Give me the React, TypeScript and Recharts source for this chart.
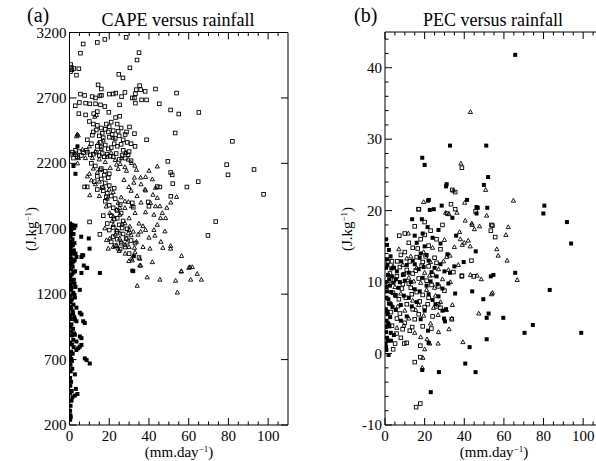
import { ScatterChart, Scatter, XAxis, YAxis } from "recharts";

type Pt = [number, number];

// ---- panel (a): CAPE (J/kg) vs rainfall (mm/day)
const capeOpenSquares: Pt[] = [
  [6.9, 3112], [14, 3124], [17.8, 3147], [28.5, 3163], [5.5, 3042], [35, 3046], [34, 2990], [30.4, 2930],
  [0.6, 2955], [0.8, 2935], [1.2, 2915], [0.5, 2900], [4.7, 2923], [3.5, 2874], [2.2, 2925],
  [24.8, 2880], [26.9, 2853], [14.4, 2800], [16, 2768],
  [35.3, 2794], [35.8, 2763], [33.6, 2763], [33.2, 2732], [38.1, 2750], [43.3, 2768], [53.9, 2737],
  [5.5, 2729], [7.6, 2719], [11.4, 2710], [13.1, 2700], [15.3, 2716], [16.1, 2720], [20, 2729], [22, 2730],
  [23.3, 2737], [26.2, 2710], [27.9, 2742], [31.6, 2700], [32.7, 2700], [36.3, 2685], [38.8, 2685],
  [2.9, 2640], [5, 2665], [8.1, 2660], [10.2, 2655], [13.1, 2655], [15.6, 2647], [17.8, 2634], [25.2, 2647], [33.2, 2660],
  [45.2, 2655], [50.9, 2608], [55, 2577], [65.1, 2589],
  [4.7, 2580], [8.1, 2570], [12.2, 2580], [14, 2595], [19.8, 2590], [23.2, 2550], [25.3, 2560],
  [53.2, 2432], [82, 2368], [38.8, 2380], [32.7, 2427], [30.2, 2478], [28.7, 2440],
  [49.5, 2215], [79.1, 2190], [92.9, 2153], [79.8, 2112], [50.9, 2130], [51.7, 2112], [52, 2045], [64.8, 2060],
  [59.1, 2019], [97.7, 1963], [51, 1948], [73.6, 1755], [69.7, 1649],
  [45.5, 2019], [44.2, 2022], [39.6, 1905], [40, 1872], [32.1, 1864], [31.6, 1898], [10.1, 1752], [15.3, 1657],
  [7.6, 2020], [8.9, 2020],
  [10, 2520], [12, 2500], [14, 2490], [16, 2470], [18, 2460], [20, 2480], [22, 2450], [24, 2500], [26, 2470],
  [28, 2420], [12, 2440], [15, 2410], [17, 2395], [20, 2400], [23, 2390], [25, 2410], [27, 2380], [29, 2360],
  [31, 2350], [9, 2380], [11, 2350], [14, 2330], [18, 2340], [21, 2320], [24, 2330], [27, 2300], [30, 2290],
  [33, 2330], [3, 2300], [5, 2290], [7, 2280], [9, 2285], [12, 2270], [15, 2260], [19, 2270], [22, 2250],
  [25, 2230], [28, 2240], [31, 2220], [4, 2250], [6, 2260], [1, 2270], [2, 2240],
  [1.5, 2285], [3.2, 2265], [8.5, 2300], [10.5, 2265], [13.5, 2285], [16.5, 2275], [17.5, 2250], [20.5, 2255],
  [23.5, 2275], [26.5, 2260], [29.5, 2265], [11.5, 2415], [13.5, 2455], [16.5, 2430], [19.5, 2440], [21.5, 2420],
  [24.5, 2445], [18.5, 2500], [21, 2515], [15.5, 2360], [22.5, 2350], [26, 2345], [19.5, 2310], [16, 2325],
  [11, 2200], [13, 2180], [16, 2160], [18, 2140], [20, 2120], [14, 2100], [16, 2080], [18, 2050], [20, 2030],
  [14, 2000], [17, 1990], [19, 1970], [21, 1950], [23, 1930], [18, 1910], [20, 1880], [22, 1860], [24, 1840],
  [26, 1820], [21, 1800], [24, 1780], [27, 1760], [25, 1730], [22, 1710], [20, 1690], [24, 1680], [27, 1660],
  [29, 1700], [22, 1640], [24, 1620], [21, 1600], [26, 1590], [23, 1570], [28, 1560], [33, 1590], [35, 1480],
  [30, 1510], [19, 1740], [17, 1800], [15.5, 2150], [17.5, 2110], [19.5, 2090], [12.5, 2060], [16.5, 2015],
  [22.5, 2010], [18.5, 1945], [25.5, 1885], [22.5, 1775], [26.5, 1705], [28.5, 1625], [25.5, 1545], [31, 1610],
];

const capeTriangles: Pt[] = [
  [4.4, 2414], [3.9, 2422], [3.5, 2407], [12.7, 2556], [13.6, 2569], [28.2, 2280], [44.2, 2176], [40, 2143],
  [38.3, 2096], [41.7, 2078], [32.7, 2091], [27.4, 2073], [29.9, 2019], [32.4, 2052], [35.8, 2091], [38.3, 1993],
  [43.3, 2013], [53.9, 1943], [44.2, 1936], [40.8, 1897], [43.3, 1872], [45.5, 1872], [38.3, 1826], [42.5, 1807],
  [46.7, 1820], [48.4, 1781], [45.8, 1781], [44.2, 1730], [42.5, 1691], [38.3, 1691], [35.8, 1678], [40, 1632],
  [43, 1647], [32.7, 1554], [40.5, 1548], [47, 1554], [50.9, 1569], [50.9, 1548], [31.2, 1471], [35.4, 1419],
  [41.7, 1445], [56.4, 1492], [60.6, 1407], [61.8, 1407], [64.3, 1355], [56.2, 1373], [29.9, 1453], [31.6, 1458],
  [35.4, 1471], [35.8, 1419], [56.3, 1376], [60.1, 1401], [53.4, 1303], [45.5, 1311], [61, 1311], [66.4, 1311],
  [39.1, 1329], [34.1, 1264], [54.3, 1213],
  [28.4, 2282], [26.2, 2240], [29.6, 2228], [32.9, 2182], [31.2, 2202], [33.7, 2150], [27.9, 2171], [24.5, 2157],
  [23.7, 2190], [28.7, 2143], [4, 2200], [4.5, 2240], [10.2, 1956], [24.5, 1898], [27.9, 1910], [29.6, 1905],
  [25.3, 1859], [23.7, 1846], [27.9, 1859], [31.2, 1872],
  [20.3, 1820], [22, 1794], [25.3, 1807], [27.9, 1742], [22, 1729], [17.8, 1703], [23.7, 1690], [25.3, 1665],
  [20.3, 1626], [18.6, 1613], [23.7, 1575], [26.2, 1601], [28.7, 1626], [27.9, 1575], [24.5, 1548], [29.6, 1665],
  [30.4, 1717], [32.1, 1678], [33.7, 1601], [25.3, 1626], [19.5, 1548], [22, 1561],
  [10, 2330], [13, 2290], [16, 2310], [19, 2250], [21, 2280], [8, 2240], [15, 2230], [18, 2210], [12, 2160],
  [10, 2120], [9, 2100], [15, 2060], [13, 2040], [17, 2020], [20, 2000], [22, 1980], [15, 1950], [19, 1930],
  [26, 1940], [31, 1990], [34, 1950], [36, 1900], [33, 1820], [30, 1780], [35, 1740], [37, 1720], [31, 1650],
  [30, 1560], [28, 1510], [25, 1530], [33, 1520], [37, 1560], [46, 1600], [48, 1680], [49, 1860], [51, 1900],
  [38, 2000], [36, 2040], [42, 1960], [2.5, 2280], [6.5, 2305], [14.5, 2355], [17, 2375], [22, 2395],
  [11.5, 2240], [23, 2225], [25.5, 2195], [20.5, 2165], [14, 2130], [11, 2070], [18.5, 1870], [21.5, 1760],
  [26.5, 1735], [23, 1655], [30, 1690], [34.5, 1655], [29, 1595],
];

const capeFilled: Pt[] = [
  [0.3, 1740], [0.5, 1720], [1.2, 1700], [0.8, 1680], [2, 1660], [0.4, 1640], [1.5, 1620], [0.6, 1600],
  [2.5, 1590], [1, 1570], [0.3, 1550], [2.2, 1535], [1.8, 1510], [0.5, 1500], [3.5, 1484], [6, 1484],
  [6.9, 1497], [1, 1470], [2, 1450], [0.4, 1430], [1.6, 1410], [8.6, 1401], [0.7, 1390], [2.8, 1375],
  [6, 1362], [15.3, 1362], [1.1, 1350], [0.3, 1330], [2.2, 1310], [1.4, 1290], [0.5, 1270], [3, 1255],
  [5.2, 1233], [0.8, 1230], [1.9, 1210], [0.4, 1190], [2.7, 1174], [1.2, 1160], [0.6, 1140], [2, 1120],
  [3.5, 1097], [0.9, 1090], [1.5, 1070], [5.2, 1058], [6, 1045], [0.3, 1040], [2.4, 1025], [2.7, 1006],
  [3.5, 993], [6.9, 993], [7.7, 980], [1, 970], [0.5, 950], [1.8, 935], [0.7, 915], [2.3, 900], [2.7, 890],
  [5.2, 877], [6, 864], [1.9, 851], [3.5, 838], [0.4, 830], [1.2, 815], [6, 812], [5.2, 799], [4.4, 787],
  [3.5, 773], [0.8, 760], [1.6, 745], [0.3, 730], [7.7, 709], [8.6, 696], [10.2, 670], [1.2, 690], [0.5, 660],
  [1.4, 630], [0.6, 610], [2.7, 587], [0.3, 560], [0.8, 530], [0.4, 500], [3.2, 476], [1.1, 460], [4, 437],
  [2.7, 425], [1.5, 412], [1, 386], [0.5, 347], [0.3, 309], [0.4, 275], [0.6, 260], [0.3, 240],
  [3, 1724], [5.9, 1639], [9.7, 1626], [10.1, 1548], [3, 1510], [6.4, 1497], [7.2, 1419], [8.9, 1401],
  [32.1, 1376], [31.6, 1380], [32.4, 1490], [4, 2330], [2, 2180], [3, 2120],
  [1.3, 1730], [2.2, 1705], [0.6, 1655], [1.7, 1575], [0.9, 1525], [2.6, 1460], [1.2, 1440], [0.5, 1405],
  [1.9, 1365], [0.6, 1310], [2.5, 1280], [1.1, 1250], [2.4, 1195], [0.4, 1105], [1.8, 1055], [0.7, 1010],
  [1.3, 885], [2.1, 795], [0.9, 705], [0.4, 445],
];

// ---- panel (b): PEC (J/kg) vs rainfall (mm/day)
const pecOpenSquares: Pt[] = [
  [38.8, 26], [35.4, 22.6], [17.1, 20.2], [33.3, 20.9], [35.4, 20.2], [31.4, 19.6], [45.7, 19.9], [53.4, 17.2],
  [54.2, 17.9], [55.6, 16.3], [43.6, 13], [38.8, 10.8], [34.5, 11.4], [44.8, 10.8], [34, 22.9], [16.9, 20.2],
  [20, 18.4], [53.7, 18], [7.2, 16.5], [1.5, 12.9], [3.5, 12.9], [6.2, 12.9], [15.7, -7.5], [17.8, -7],
  [15, -1.2], [17.8, -0.5], [17.8, 1.1], [9.7, 1.4], [10.9, 1.5], [4.1, 0.6], [5.1, 1.4], [5.8, 2.8],
  [23.4, 3.5], [33.7, 4.8], [28, 6.4], [26, 6.6], [26.8, 6.9], [13.7, 3.7], [8.9, 3.4], [38.8, 10.9],
  [12, 15.5], [14, 14.8], [10, 14.2], [16, 13.5], [8, 13.8], [19, 12.8], [22, 12.2], [25, 13.4], [11, 11.7],
  [14, 11.2], [17, 10.5], [21, 10.2], [24, 11], [6, 10.8], [9, 9.7], [13, 9.2], [16, 8.6], [19, 8.2], [22, 7.8],
  [27, 9.4], [30, 8.8], [4, 8.5], [7, 7.6], [11, 6.9], [14, 6.2], [17, 5.5], [20, 6.5], [24, 5.2], [3, 5.8],
  [6, 4.9], [10, 4.3], [15, 4.8], [19, 3.8], [8, 2.2], [12, 9.8], [26, 16], [28, 14.6], [20, 16.6], [23, 17.2],
  [29, 18], [15, 17.8], [10, 16.8],
  [2.5, 11.2], [4.5, 10.2], [7.5, 12.1], [9.5, 11.1], [12.5, 12.9], [15.5, 11.6], [18.5, 12.3], [20.5, 13.6],
  [23.5, 9.6], [26, 12.7], [5.5, 8.1], [8.5, 9.1], [10.5, 7.8], [13.5, 8.3], [17.5, 7.3], [21.5, 6.9],
  [3.5, 3.9], [7.5, 5.6], [12.5, 3.2], [16.5, 14.7], [18, 16], [22, 15.1],
];

const pecTriangles: Pt[] = [
  [43.1, 33.8], [38.3, 26.6], [50.8, 22.9], [34.5, 22.8], [64.8, 21.4], [40.2, 21.1], [19.5, 21.2], [36.3, 19.7],
  [51.3, 19.3], [40.5, 18.6], [44, 18], [45.1, 17.4], [47.7, 17.8], [62.2, 17.7], [61, 16.6], [56.4, 14.6],
  [57.1, 13.7], [61.6, 13], [66.7, 10.3], [37.6, 17], [38, 16], [40, 15.5], [42, 15.8], [39, 15.2], [43, 15],
  [31.1, 13.5], [32.8, 13.7], [43.1, 11], [46.5, 10.9], [48.6, 10.4], [54.2, 8.5], [53.7, 8.3], [47.3, 5.6],
  [39.3, 1.6], [18.8, -2], [19.1, -0.6], [20, 0.6], [22.6, 1.4], [26.8, 1.4], [21.2, 2], [18, 2.3], [32.3, 3.4],
  [34, 6.8], [33.7, 4.9], [26.8, 5.4], [30.6, 19.7], [32.3, 19.5], [43.8, 18.2], [11.8, 16.8],
  [13, 13.6], [9, 12.4], [16, 12], [20, 11.3], [23, 12.8], [27, 11.8], [12, 10.6], [18, 9.9], [25, 9.2],
  [29, 10.4], [5, 9.3], [8, 8.4], [14, 7.4], [21, 8.9], [28, 7.2], [31, 6.1], [3, 7], [10, 6], [17, 6.8],
  [23, 4.2], [27, 3], [6, 3.6], [15, 2.9], [24, 14.8], [30, 15.9], [35, 14.9], [37, 12.4], [33, 10], [2, 4.2],
  [12, 4.9], [1.5, 9.8], [4, 12.2], [7, 14.6], [11, 13.3], [14.5, 10.1], [19.5, 14.2], [22.5, 10.9],
  [25.5, 8.1], [29.5, 12.9], [32, 11.7], [6.5, 6.6], [9.5, 3.9], [15.5, 6.1], [19.5, 5.3], [24.5, 6.4],
];

const pecFilled: Pt[] = [
  [65.7, 41.8], [32.8, 29.1], [51.1, 29.1], [18.8, 27.4], [20, 26.4], [52, 24.7], [49.9, 23.6], [31.1, 23.7],
  [30.8, 23.4], [41.4, 21.5], [21.7, 21.4], [22.6, 20.1], [28.6, 20.7], [46.2, 20.5], [46.8, 20.4], [51.6, 20.4],
  [80.4, 20.7], [79.9, 19.6], [91.8, 18.4], [93.9, 15.4], [13.7, 18.8], [46.2, 19.6], [35.9, 16.5], [65.7, 11.3],
  [83.1, 8.9], [45.8, 14.3], [39.7, 12.8], [53.4, 10.8], [54.7, 11], [32.8, 11.3], [44, 8.7], [49.6, 7.6],
  [52.3, 5.6], [51.3, 5], [59.7, 5], [74.6, 4], [70.4, 2.9], [99, 2.9], [51.3, 2], [42.7, 0.9], [40.5, -1.4],
  [45.7, -2.6], [27.2, -2.6], [23.1, -5.4], [18.8, -2.3], [22, 1.5], [21.7, 3.2], [29.8, 4.9], [30.3, 4.5],
  [30.8, 6.2], [35.4, 8.4], [22.1, 21.5], [24.6, 20.2], [34, 19], [18.6, 18.8],
  [2, 14.5], [1, 13.2], [0.5, 12], [1.5, 11], [0.3, 10], [2.5, 9.5], [1, 8.7], [0.6, 7.8], [2, 7], [0.4, 6.2],
  [1.3, 5.5], [0.8, 4.6], [2.2, 3.8], [0.5, 3], [1, 2.2], [0.3, 1.4], [0.7, 0.5], [3.5, 10.8], [4.5, 12],
  [5, 8.2], [3.8, 6.5], [6, 11.5], [7.5, 10], [9, 11], [11, 12.4], [14, 13], [16, 15.5], [18, 14], [20, 15],
  [22, 13], [25, 12], [13, 10], [15, 9], [17, 11.8], [19, 10.6], [21, 9.5], [23, 10.1], [26, 10.8], [28, 12.5],
  [30, 11.5], [32, 9.8], [8, 6.8], [12, 7.8], [16, 7.2], [20, 6], [24, 7.5], [27, 8], [29, 6], [11, 5.2],
  [18, 4.8], [3, 1.8], [1.8, -0.2], [0.5, 16], [1, 15.2], [24, 16.2], [27, 17.3], [19, 16.8], [15, 16.5],
  [2.8, 13.6], [1.2, 12.4], [3.2, 11.9], [2.1, 10.4], [0.8, 9.3], [3.1, 8.6], [1.7, 7.6], [2.8, 6.9],
  [0.9, 5.9], [2.6, 5.1], [1.6, 4.2], [0.4, 3.7], [2.9, 2.9], [1.4, 1.8], [0.5, 0.9], [4.2, 9.9], [5.5, 10.4],
  [6.8, 9.2], [8.2, 12.9], [10, 10.2], [12, 11.3], [15, 12.5], [17.5, 13.4], [19.5, 12.1], [21, 13.8],
  [23.5, 11.4], [26.5, 9.7], [29, 9.1], [9.5, 8.1], [13.5, 6.6], [17.5, 8.7], [22, 8.3], [25.5, 6.9],
  [5.5, 6.1], [8, 4.6], [4.5, 2.6], [28, 15.4], [31.5, 13.9], [35, 12.2], [21.5, 17.7],
];

const rainTicks = Array.from({ length: 22 }, (_, i) => i * 5); // 0..105
const rainMajor = [0, 20, 40, 60, 80, 100];
const capeTicks = [200, 700, 1200, 1700, 2200, 2700, 3200];
const pecTicks = Array.from({ length: 28 }, (_, i) => -10 + i * 2); // -10..44
const pecMajor = [-10, 0, 10, 20, 30, 40];

const FONT = '"Liberation Serif", "Times New Roman", "DejaVu Serif", serif';
const MAJ = 7;
const MIN = 3.5;

const toXY = (pts: Pt[]) => pts.map(([x, y]) => ({ x, y }));

function OpenSquare(props: any) {
  const { cx, cy } = props;
  if (cx == null || cy == null) return <g />;
  return <rect x={cx - 1.8} y={cy - 1.8} width={3.6} height={3.6} fill="none" stroke="#000" strokeWidth={0.9} />;
}

function OpenTriangle(props: any) {
  const { cx, cy } = props;
  if (cx == null || cy == null) return <g />;
  return (
    <polygon
      points={`${cx},${cy - 2.3} ${cx - 2.1},${cy + 1.5} ${cx + 2.1},${cy + 1.5}`}
      fill="none"
      stroke="#000"
      strokeWidth={0.9}
    />
  );
}

function FilledSquare(props: any) {
  const { cx, cy } = props;
  if (cx == null || cy == null) return <g />;
  return <rect x={cx - 2} y={cy - 2} width={4} height={4} fill="#000" />;
}

const textStyle = { fontFamily: FONT };

const bottomTick = (majors: number[]) => (props: any) => {
  const { x, y, payload } = props;
  const major = majors.includes(payload.value);
  return (
    <g>
      <line x1={x} y1={y} x2={x} y2={y - (major ? MAJ : MIN)} stroke="#000" strokeWidth={1} />
      {major && (
        <text x={x} y={y + 16} textAnchor="middle" fontSize={15} style={textStyle} fill="#000">
          {payload.value}
        </text>
      )}
    </g>
  );
};

const topTick = (majors: number[]) => (props: any) => {
  const { x, y, payload } = props;
  const major = majors.includes(payload.value);
  return <line x1={x} y1={y} x2={x} y2={y + (major ? MAJ : MIN)} stroke="#000" strokeWidth={1} />;
};

const leftTick = (majors: number[]) => (props: any) => {
  const { x, y, payload } = props;
  const major = majors.includes(payload.value);
  return (
    <g>
      <line x1={x} y1={y} x2={x + (major ? MAJ : MIN)} y2={y} stroke="#000" strokeWidth={1} />
      {major && (
        <text x={x - 3} y={y + 5} textAnchor="end" fontSize={15} style={textStyle} fill="#000">
          {payload.value}
        </text>
      )}
    </g>
  );
};

const rightTick = (majors: number[]) => (props: any) => {
  const { x, y, payload } = props;
  const major = majors.includes(payload.value);
  return <line x1={x} y1={y} x2={x - (major ? MAJ : MIN)} y2={y} stroke="#000" strokeWidth={1} />;
};

const axisLine = { stroke: "#000", strokeWidth: 1 };

function Panel(props: {
  width: number;
  margin: { top: number; right: number; bottom: number; left: number };
  yDomain: [number, number];
  yTicks: number[];
  yMajor: number[];
  squares: Pt[];
  triangles: Pt[];
  filled: Pt[];
}) {
  const { width, margin, yDomain, yTicks, yMajor, squares, triangles, filled } = props;
  return (
    <ScatterChart width={width} height={461} margin={margin}>
      <XAxis
        xAxisId="b"
        dataKey="x"
        type="number"
        domain={[0, 110]}
        allowDataOverflow
        ticks={rainTicks}
        interval={0}
        tick={bottomTick(rainMajor)}
        tickLine={false}
        tickSize={0}
        tickMargin={0}
        axisLine={axisLine}
        height={30}
        orientation="bottom"
      />
      <XAxis
        xAxisId="t"
        dataKey="x"
        type="number"
        domain={[0, 110]}
        allowDataOverflow
        ticks={rainTicks}
        interval={0}
        tick={topTick(rainMajor)}
        tickLine={false}
        tickSize={0}
        tickMargin={0}
        axisLine={axisLine}
        height={5}
        orientation="top"
      />
      <YAxis
        yAxisId="l"
        dataKey="y"
        type="number"
        domain={yDomain}
        allowDataOverflow
        ticks={yTicks}
        interval={0}
        tick={leftTick(yMajor)}
        tickLine={false}
        tickSize={0}
        tickMargin={0}
        axisLine={axisLine}
        width={40}
        orientation="left"
      />
      <YAxis
        yAxisId="r"
        dataKey="y"
        type="number"
        domain={yDomain}
        allowDataOverflow
        ticks={yTicks}
        interval={0}
        tick={rightTick(yMajor)}
        tickLine={false}
        tickSize={0}
        tickMargin={0}
        axisLine={axisLine}
        width={5}
        orientation="right"
      />
      <Scatter xAxisId="b" yAxisId="l" data={toXY(filled)} shape={FilledSquare} isAnimationActive={false} />
      <Scatter xAxisId="b" yAxisId="l" data={toXY(triangles)} shape={OpenTriangle} isAnimationActive={false} />
      <Scatter xAxisId="b" yAxisId="l" data={toXY(squares)} shape={OpenSquare} isAnimationActive={false} />
      <Scatter xAxisId="t" yAxisId="r" data={[]} isAnimationActive={false} />
    </ScatterChart>
  );
}

function Sup(props: { x: number; y: number; base: string; rotate?: boolean }) {
  const { x, y, base, rotate } = props;
  return (
    <text
      x={x}
      y={y}
      textAnchor="middle"
      fontSize={15}
      style={textStyle}
      fill="#000"
      transform={rotate ? `rotate(-90 ${x} ${y})` : undefined}
    >
      {base}
      <tspan dy={-5} fontSize={9}>−1</tspan>
      <tspan dy={5}>)</tspan>
    </text>
  );
}

export default function App() {
  return (
    <div
      style={{
        position: "absolute",
        left: 0,
        top: 0,
        width: 596,
        height: 461,
        overflow: "hidden",
        background: "#fff",
      }}
    >
      <div style={{ position: "absolute", left: 0, top: 0 }}>
        <Panel
          width={300}
          margin={{ top: 27.5, right: 7, bottom: 6, left: 29.5 }}
          yDomain={[200, 3200]}
          yTicks={capeTicks}
          yMajor={capeTicks}
          squares={capeOpenSquares}
          triangles={capeTriangles}
          filled={capeFilled}
        />
      </div>
      <div style={{ position: "absolute", left: 330, top: 0 }}>
        <Panel
          width={290}
          margin={{ top: 27, right: 12, bottom: 6, left: 15 }}
          yDomain={[-10, 45]}
          yTicks={pecTicks}
          yMajor={pecMajor}
          squares={pecOpenSquares}
          triangles={pecTriangles}
          filled={pecFilled}
        />
      </div>
      <svg
        width={596}
        height={461}
        style={{ position: "absolute", left: 0, top: 0, pointerEvents: "none" }}
      >
        <text x={27} y={22} fontSize={20} style={textStyle} fill="#000">(a)</text>
        <text x={178} y={26} textAnchor="middle" fontSize={18} style={textStyle} fill="#000">
          CAPE versus rainfall
        </text>
        <text x={354} y={22} fontSize={20} style={textStyle} fill="#000">(b)</text>
        <text x={493} y={26} textAnchor="middle" fontSize={18} style={textStyle} fill="#000">
          PEC versus rainfall
        </text>
        <Sup x={36} y={229} base="(J.kg" rotate />
        <Sup x={352} y={229} base="(J.kg" rotate />
        <Sup x={179} y={457} base="(mm.day" />
        <Sup x={494} y={457} base="(mm.day" />
      </svg>
    </div>
  );
}
